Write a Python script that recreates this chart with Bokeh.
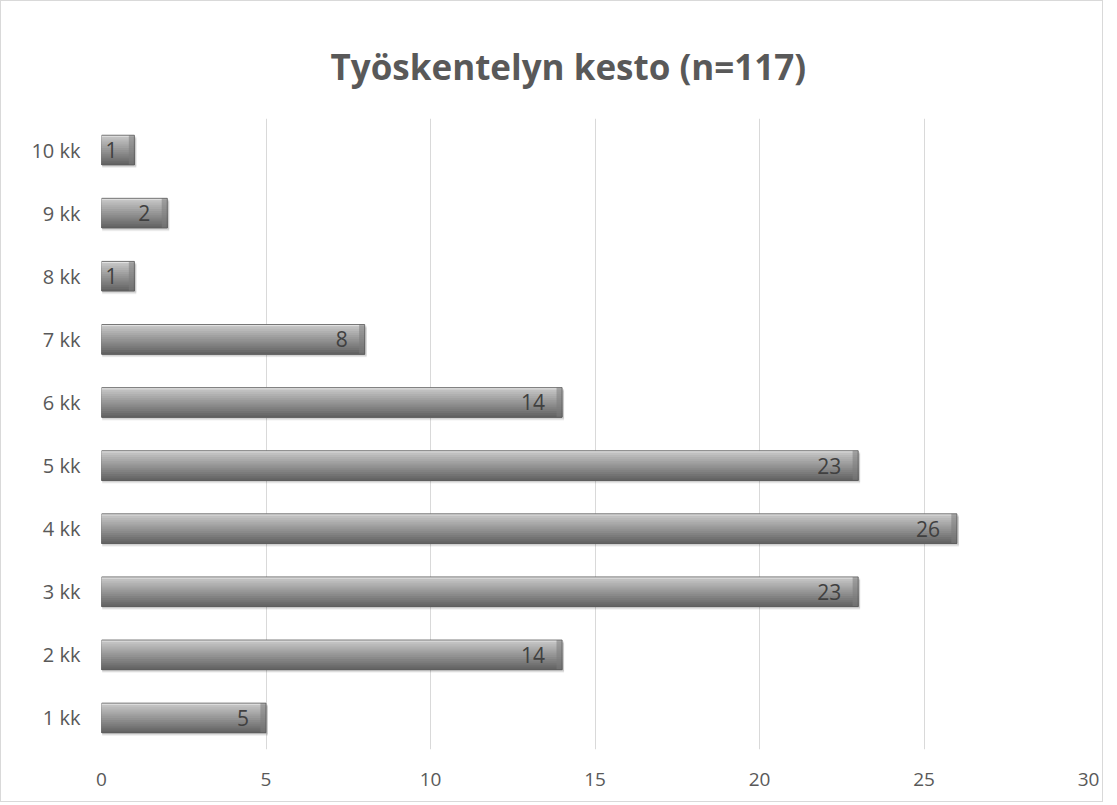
from bokeh.plotting import figure
from bokeh.models import ColumnDataSource, FactorRange, LabelSet
from bokeh.transform import dodge
from bokeh.core.properties import value
from bokeh.embed import file_html
from bokeh.resources import INLINE

categories = ["1 kk", "2 kk", "3 kk", "4 kk", "5 kk", "6 kk", "7 kk", "8 kk", "9 kk", "10 kk"]
values = [5, 14, 23, 26, 23, 14, 8, 1, 2, 1]
title_text = "Työskentelyn kesto (n=117)"
x_ticks = [0, 5, 10, 15, 20, 25, 30]

src = ColumnDataSource(dict(cat=categories, val=values, lab=[str(v) for v in values]))

p = figure(
    y_range=FactorRange(*categories, range_padding=0),
    x_range=(0, 30),
    frame_width=987, frame_height=631,
    min_border_left=100, min_border_right=14, min_border_top=40, min_border_bottom=52,
    output_backend="svg", toolbar_location=None,
    title=title_text,
)
p.styles = {"border": "1px solid #d9d9d9"}
p.title.align = "left"
p.title.offset = 193
p.title.text_font = "Open Sans"
p.title.text_font_style = "bold"
p.title.text_font_size = "35px"
p.title.text_color = "#595959"
p.title.padding = dict(left=36, right=0, top=39, bottom=29)
p.title.standoff = 0

BH = 0.47
# soft shadow
for off, a in [(-0.05, 0.06), (-0.035, 0.08), (-0.02, 0.08)]:
    p.hbar(y=dodge("cat", off, range=p.y_range), left=0.02, right=dodge("val", 0.06), height=BH,
           source=src, fill_color="black", fill_alpha=a, line_color=None)
# gradient: nested strips, light on top to dark at bottom
n = 14
top_c = (200, 200, 200)
bot_c = (100, 100, 100)
for i in range(n):
    t = i / (n - 1)
    c = tuple(int(top_c[k] + (bot_c[k] - top_c[k]) * t) for k in range(3))
    h = BH / n
    top = BH / 2 - h * i
    bot = -BH / 2
    p.hbar(y=dodge("cat", (top + bot) / 2, range=p.y_range), left=0, right="val",
           height=top - bot, source=src, fill_color="#%02x%02x%02x" % c, line_color=None)
# top highlight line
p.hbar(y=dodge("cat", BH / 2 - 0.012, range=p.y_range), left=0, right="val", height=0.024,
       source=src, fill_color="#e2e2e2", line_color=None)
# right bevel cap
p.hbar(y="cat", left=dodge("val", -0.17), right="val", height=BH, source=src,
       fill_color="#7c7c7c", fill_alpha=0.55, line_color=None)
# outline
p.hbar(y="cat", left=0, right="val", height=BH, source=src,
       fill_color=None, line_color="#5a5a5a", line_width=1, line_alpha=0.8)

labels = LabelSet(x="val", y="cat", text="lab", source=src, x_offset=-17, y_offset=0,
                  text_align="right", text_baseline="middle",
                  text_font=value("Open Sans"), text_font_size="21px", text_color="#404040")
p.add_layout(labels)

p.xaxis.ticker = x_ticks
p.xaxis.axis_line_color = None
p.xaxis.major_tick_line_color = None
p.xaxis.minor_tick_line_color = None
p.xaxis.major_label_text_font = "Open Sans"
p.xaxis.major_label_text_font_size = "19px"
p.xaxis.major_label_text_color = "#595959"
p.xaxis.major_label_standoff = 17

p.yaxis.axis_line_color = None
p.yaxis.major_tick_line_color = None
p.yaxis.major_label_text_font = "Open Sans"
p.yaxis.major_label_text_font_size = "20px"
p.yaxis.major_label_text_color = "#595959"
p.yaxis.major_label_standoff = 15

p.xgrid.ticker = x_ticks
p.xgrid.grid_line_color = "#d9d9d9"
p.ygrid.grid_line_color = None
p.outline_line_color = None
p.background_fill_color = "white"
p.border_fill_color = "white"

open("out.html", "w").write(file_html(p, INLINE))
